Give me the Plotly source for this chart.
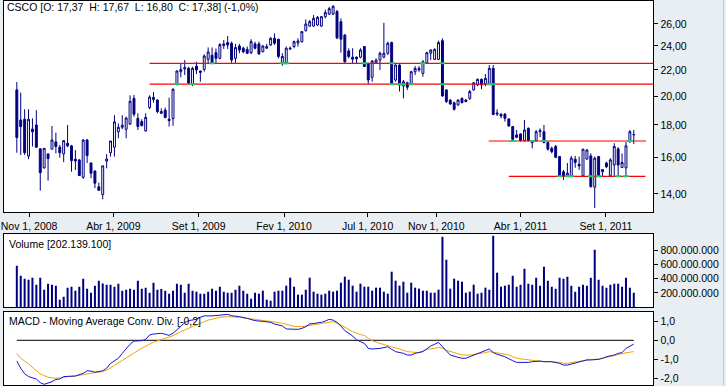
import math
import pandas as pd
import plotly.graph_objects as go

# ---------------- data ----------------
first_week = "2008-10-10"   # weekly candles (week ending Friday)

opens = [20.45,18.33,18.38,16.08,17.73,18.00,16.50,15.40,16.20,16.48,
         16.92,16.60,16.20,16.84,16.68,15.89,15.85,14.88,17.04,15.67,
         15.22,14.37,13.97,15.78,16.27,16.60,17.56,17.85,17.72,18.06,
         19.83,18.44,18.22,17.62,19.17,19.74,19.71,18.78,19.00,18.38,
         18.42,
         20.88,21.85,22.07,22.12,20.90,22.30,21.91,22.04,22.86,23.20,
         23.42,22.94,24.03,24.30,24.24,22.94,24.00,23.80,
         23.70,23.42,24.18,24.18,23.50,23.80,24.09,24.68,24.60,22.60,
         22.60,23.73,23.95,24.27,24.38,25.38,25.80,25.80,25.90,25.80,
         26.70,26.96,26.96,27.20,26.22,24.98,23.57,23.04,23.04,23.04,
         23.95,22.53,21.41,22.57,22.80,23.04,23.37,24.30,21.20,22.39,
         20.75,20.99,20.90,21.85,21.99,21.72,22.57,23.37,22.86,22.86,
         24.47,
         20.45,19.71,19.52,19.36,19.83,19.71,19.83,20.45,20.82,21.25,
         20.90,20.95,22.12,18.72,18.72,18.72,18.40,17.90,17.36,17.42,
         17.00,17.78,17.00,17.00,17.56,17.56,16.88,16.53,16.64,16.04,
         15.18,14.95,14.95,15.89,15.60,14.95,15.90,16.08,14.35,16.04,
         15.18,15.67,14.95,15.56,16.50,15.42,15.40,16.97,17.37]

highs = [21.05,20.25,19.06,19.06,18.44,19.00,16.53,16.55,16.20,17.93,
         17.50,16.74,17.04,18.00,16.74,16.43,15.89,17.10,17.10,15.70,
         15.25,14.59,15.51,16.18,16.98,18.65,18.10,18.65,18.55,20.05,
         20.08,18.78,18.38,18.78,20.05,20.30,19.75,19.12,19.17,19.88,
         20.57,
         21.95,22.53,22.80,22.25,22.25,22.66,21.93,23.28,23.87,23.87,
         23.78,24.24,24.53,24.89,24.38,24.18,24.18,23.95,
         23.95,24.60,24.38,24.38,24.05,24.18,24.77,25.13,24.60,23.37,
         23.95,23.95,24.47,24.68,25.32,26.44,26.38,26.86,26.77,26.77,
         27.40,27.67,27.83,27.37,26.54,25.05,23.80,23.80,23.10,23.80,
         23.95,22.57,22.80,22.94,23.50,26.12,24.38,24.38,22.45,22.45,
         21.20,21.07,21.93,22.30,22.30,22.80,23.50,23.71,23.78,24.47,
         24.68,
         20.50,19.76,19.60,19.76,19.90,19.78,20.45,21.05,21.33,21.33,
         21.67,22.39,22.39,19.06,18.78,18.80,18.44,17.93,17.67,17.46,
         18.33,17.84,17.02,17.67,17.78,18.00,16.95,16.64,16.74,16.08,
         15.28,15.67,16.08,16.08,16.04,16.50,16.48,16.23,16.04,16.08,
         15.33,15.75,15.95,16.84,16.60,16.23,16.92,17.67,17.67]

lows = [16.27,16.14,16.14,15.89,16.64,16.55,14.17,15.35,14.70,16.48,
        16.23,15.98,15.72,16.60,15.18,15.28,14.95,14.79,15.67,14.83,
        14.30,14.17,13.73,15.37,16.04,16.04,17.15,17.72,17.15,18.00,
        18.55,17.67,17.90,17.56,19.06,19.52,18.78,18.73,18.44,17.90,
        17.94,
        20.80,21.41,21.59,20.93,20.73,21.67,21.07,21.85,22.53,22.53,
        22.57,22.86,23.74,23.74,22.57,22.57,23.37,23.37,
        23.30,23.30,23.71,23.22,23.45,23.78,24.00,24.09,22.94,22.33,
        22.45,23.65,23.80,23.95,24.30,25.29,25.74,25.74,25.80,25.74,
        26.54,26.86,26.86,24.60,23.42,22.57,22.94,22.53,22.53,22.94,
        22.23,20.90,21.07,22.53,21.99,22.94,23.22,20.82,21.07,20.33,
        19.83,20.45,20.82,21.59,21.85,21.46,22.53,22.80,22.80,22.80,
        19.95,
        19.50,19.36,18.96,19.30,19.48,19.55,19.71,20.40,20.73,20.50,
        20.73,20.90,18.65,18.60,18.44,18.22,17.90,17.00,17.15,16.95,
        16.95,16.95,16.53,16.95,17.21,16.84,16.40,16.23,15.95,14.92,
        14.73,14.92,14.92,15.40,15.28,14.92,15.85,14.33,13.30,14.90,
        14.95,15.38,14.90,14.95,14.95,15.38,14.95,16.85,16.80]

closes = [17.20,17.90,16.27,18.38,17.56,16.60,15.13,16.53,15.92,17.04,
          16.64,16.27,17.00,16.68,15.81,15.79,14.97,17.04,16.10,15.10,
          14.56,14.19,15.51,15.90,16.98,18.20,17.85,17.98,18.46,19.62,
          18.72,17.90,17.96,18.50,19.93,19.90,18.90,18.90,18.50,18.29,
          20.50,
          21.91,22.04,22.18,20.97,22.12,21.99,21.80,23.14,23.48,22.57,
          22.94,24.12,24.18,24.09,22.80,23.87,23.65,23.50,
          23.37,24.38,23.80,23.32,24.00,23.95,24.68,24.24,23.10,23.10,
          23.80,23.80,24.38,24.44,25.29,26.00,26.22,26.54,26.64,26.70,
          27.10,27.50,27.73,24.72,24.60,22.66,23.10,22.87,22.90,23.65,
          22.27,21.20,22.72,22.80,23.37,23.37,24.24,20.95,22.39,20.82,
          21.07,20.65,21.85,22.12,22.12,22.66,23.42,23.65,23.71,24.30,
          20.00,
          19.60,19.43,19.06,19.71,19.52,19.60,20.33,20.99,21.25,20.82,
          21.33,22.12,18.70,18.80,18.60,18.44,17.93,17.08,17.21,17.00,
          17.67,17.00,16.88,17.56,17.64,16.88,16.48,16.33,16.00,14.95,
          14.95,15.10,15.95,15.70,15.51,16.48,16.43,14.38,15.95,14.95,
          15.30,15.46,15.85,16.64,15.56,15.70,16.68,17.56,17.38]

volume_millions = [583,442,400,385,414,315,414,244,329,315,
                   301,103,146,273,287,230,287,400,259,202,
                   301,371,330,315,315,287,329,230,244,259,
                   244,371,259,273,202,343,244,254,230,188,
                   230,329,315,202,329,230,216,188,188,216,
                   259,230,287,216,202,202,244,301,230,188,
                   118,202,188,230,103,89,216,230,230,301,
                   414,287,174,174,244,414,216,188,174,188,
                   230,216,230,343,428,385,301,216,329,
                   287,287,230,273,273,216,188,498,371,301,
                   357,202,343,273,259,230,230,202,202,244,
                   992,667,259,400,371,357,202,216,315,188,
                   202,273,244,1006,484,287,301,315,442,287,
                   315,540,329,315,414,301,569,371,287,259,
                   414,400,428,301,216,287,315,301,414,808,
                   385,301,273,315,329,329,287,414,273,202.139100]

# MACD line samples (week index, value)
macd_week = [0,1,2,3,5,6,7,9,10,11,12,14,15,17,18,19,20,22,23,24,26,27,28,29,30,
             32,33,34,35,37,38,39,40,41,42,43,44,46,47,48,50,51,52,54,55,56,57,59,
             60,61,63,64,65,66,68,69,70,72,73,74,75,77,78,79,80,81,82,83,84,86,87,88,
             89,90,91,93,94,95,96,97,99,100,101,102,104,105,106,107,108,109,110,111,
             113,114,115,116,118,119,120,121,122,123,125,126,127,128,130,131,132,134,
             135,136,137,139,140,141,142,144,145,146,147,149,150,151,153,154,155,156,158]
macd_val = [-1.10,-1.48,-1.77,-1.92,-2.05,-2.24,-2.33,-2.19,-2.07,-2.05,-1.92,-1.89,-1.89,
            -1.75,-1.61,-1.63,-1.69,-1.61,-1.48,-1.22,-0.95,-0.69,-0.46,-0.21,-0.04,
            -0.02,0.05,0.28,0.33,0.37,0.32,0.26,0.37,0.54,0.76,0.93,1.04,1.11,1.22,1.29,
            1.29,1.30,1.34,1.37,1.30,1.29,1.25,1.16,1.11,1.04,1.00,0.97,0.95,0.86,0.76,
            0.60,0.60,0.58,0.63,0.72,0.86,0.90,0.95,1.02,1.11,1.07,0.95,0.76,0.51,0.23,
            0.02,-0.07,
            -0.16,-0.43,-0.46,-0.43,-0.37,-0.34,-0.48,-0.60,-0.69,-0.78,-0.78,-0.69,
            -0.60,-0.43,-0.30,-0.21,-0.11,-0.34,-0.55,-0.78,-0.90,-0.95,-0.95,-0.87,
            -0.72,-0.65,-0.57,-0.46,-0.65,-0.74,-0.87,-0.99,-1.08,-1.17,-1.18,-1.17,
            -1.13,-1.10,-1.13,-1.13,-1.13,-1.22,-1.31,-1.31,-1.25,-1.17,-1.08,-1.04,
            -1.04,-1.01,-0.95,-0.87,-0.78,-0.69,-0.65,-0.43,-0.20]

signal_week = [0,1,3,5,6,8,10,12,13,15,17,18,20,22,23,25,27,29,30,32,34,35,37,39,40,
               42,44,46,47,49,51,52,54,56,57,59,61,63,64,66,68,69,71,73,74,76,78,80,81,
               83,85,86,88,
               89,90,91,93,94,95,96,98,99,100,102,103,104,105,107,108,109,110,112,113,
               114,116,117,118,120,121,122,123,125,126,127,128,130,131,132,134,135,136,
               137,139,140,141,142,144,145,146,147,149,150,151,153,154,155,156,158]
signal_val = [-0.69,-0.95,-1.25,-1.60,-1.78,-1.96,-2.01,-1.96,-1.92,-1.89,-1.84,-1.78,
              -1.71,-1.66,-1.58,-1.32,-1.08,-0.83,-0.66,-0.42,-0.21,-0.10,0.04,0.16,0.24,
              0.46,0.63,0.81,0.92,1.07,1.16,1.22,1.25,1.25,1.22,1.16,1.11,1.07,1.02,0.97,
              0.90,0.84,0.74,0.72,0.75,0.84,0.90,0.95,0.99,0.81,0.60,0.46,0.30,
              0.26,0.10,-0.02,-0.16,-0.21,-0.28,-0.35,-0.46,-0.53,-0.60,-0.64,-0.64,
              -0.57,-0.48,-0.43,-0.37,-0.42,-0.53,-0.65,-0.72,-0.78,-0.78,-0.77,-0.72,
              -0.65,-0.60,-0.63,-0.66,-0.72,-0.78,-0.87,-0.95,-1.01,-1.04,-1.08,-1.10,
              -1.13,-1.13,-1.13,-1.17,-1.22,-1.22,-1.18,-1.13,-1.08,-1.04,-1.03,-0.99,
              -0.95,-0.90,-0.83,-0.78,-0.72,-0.66,-0.60]

# horizontal support / resistance levels
level_price = [22.53, 20.88, 16.98, 14.93]
level_start = ["2009-06-05", "2009-06-05", "2011-02-03", "2011-03-11"]
level_end = ["2011-12-31", "2011-12-31", "2011-11-12", "2011-11-11"]

# weeks whose candles touch a level (small green marks)
touch_week = [41, 45, 50, 68, 69, 89, 96, 96, 98, 99, 101, 104, 109, 109,
              121, 122, 127, 132, 135, 157, 139, 141, 142, 147, 149, 154, 156]
touch_price = [20.88, 20.88, 22.53, 22.53, 22.53, 22.53, 22.53, 20.88, 20.88, 20.88,
               20.88, 22.53, 22.53, 20.88, 20.88, 20.88, 16.98, 16.98, 16.98, 16.98,
               14.93, 14.93, 14.93, 14.93, 14.93, 14.93, 14.93]

x_tick_dates = ["2008-11-01", "2009-04-01", "2009-09-01", "2010-02-01",
                "2010-07-01", "2010-11-01", "2011-04-01", "2011-09-01"]
x_tick_text = ["Nov 1, 2008", "Abr 1, 2009", "Set 1, 2009", "Fev 1, 2010",
               "Jul 1, 2010", "Nov 1, 2010", "Abr 1, 2011", "Set 1, 2011"]
price_ticks = [14, 16, 18, 20, 22, 24, 26]
price_tick_text = ["14,00", "16,00", "18,00", "20,00", "22,00", "24,00", "26,00"]
vol_ticks = [200e6, 400e6, 600e6, 800e6]
vol_tick_text = ["200.000.000", "400.000.000", "600.000.000", "800.000.000"]
macd_ticks = [1.0, 0.0, -1.0, -2.0]
macd_tick_text = ["1,0", "0,0", "-1,0", "-2,0"]

title_text = "CSCO [O: 17,37\u00a0 H: 17,67\u00a0 L: 16,80\u00a0 C: 17,38] (-1,0%)"
volume_text = "Volume [202.139.100]"
macd_text = "MACD - Moving Average Conv. Div. [-0,2]"

n = len(opens)
assert len(highs) == n and len(lows) == n and len(closes) == n and len(volume_millions) == n
assert len(macd_week) == len(macd_val) and len(signal_week) == len(signal_val)
assert len(touch_week) == len(touch_price)

dates = pd.date_range(first_week, periods=n, freq="7D")
volumes = [v * 1e6 for v in volume_millions]

# ---------------- layout helpers ----------------
W, H = 726, 386
NAVY = "#000080"
BG = "#e9eef2"
FONT = "Liberation Sans, Arial, sans-serif"
FS = 10.5

def fx(px):
    return px / W

def fy(px):
    return 1 - px / H

x_dom = [fx(1), fx(653)]
x_range = ["2008-09-17", "2011-11-25"]

fig = go.Figure()

fig.add_trace(go.Candlestick(
    x=dates, open=opens, high=highs, low=lows, close=closes,
    increasing=dict(line=dict(color=NAVY, width=1), fillcolor="white"),
    decreasing=dict(line=dict(color=NAVY, width=1), fillcolor=NAVY),
    whiskerwidth=0, xaxis="x", yaxis="y", showlegend=False, hoverinfo="skip"))

for p, s, e in zip(level_price, level_start, level_end):
    fig.add_trace(go.Scatter(x=[s, e], y=[p, p], mode="lines",
                             line=dict(color="#ff0000", width=1.2),
                             xaxis="x", yaxis="y", showlegend=False, hoverinfo="skip"))

fig.add_trace(go.Scatter(x=[dates[i] for i in touch_week], y=touch_price, mode="markers",
                         marker=dict(symbol="line-ew", size=4,
                                     line=dict(color="#22cc66", width=2)),
                         xaxis="x", yaxis="y", showlegend=False, hoverinfo="skip"))

fig.add_trace(go.Bar(x=dates, y=volumes, marker=dict(color=NAVY, line=dict(width=0)),
                     width=3.6 * 86400000, xaxis="x2", yaxis="y2",
                     showlegend=False, hoverinfo="skip"))

fig.add_trace(go.Scatter(x=[dates[0], dates[-1]], y=[0, 0], mode="lines",
                         line=dict(color="black", width=1),
                         xaxis="x3", yaxis="y3", showlegend=False, hoverinfo="skip"))
fig.add_trace(go.Scatter(x=[dates[i] for i in signal_week], y=signal_val, mode="lines",
                         line=dict(color="#f0a500", width=1),
                         xaxis="x3", yaxis="y3", showlegend=False, hoverinfo="skip"))
fig.add_trace(go.Scatter(x=[dates[i] for i in macd_week], y=macd_val, mode="lines",
                         line=dict(color="#1414d2", width=1),
                         xaxis="x3", yaxis="y3", showlegend=False, hoverinfo="skip"))

axis_common = dict(showline=True, mirror=True, linecolor="black", linewidth=1,
                   showgrid=False, zeroline=False)

fig.update_layout(
    width=W, height=H, margin=dict(l=0, r=0, t=0, b=0),
    paper_bgcolor=BG, plot_bgcolor="white",
    font=dict(family=FONT, size=FS, color="black"),
    showlegend=False, boxgap=0.3, boxgroupgap=0.3,
    xaxis=dict(domain=x_dom, range=x_range, type="date", anchor="y",
               tickvals=x_tick_dates, ticktext=x_tick_text, ticks="outside",
               ticklen=4, tickcolor="black", rangeslider=dict(visible=False),
               ticklabeloverflow="allow", **axis_common),
    xaxis2=dict(domain=x_dom, range=x_range, type="date", anchor="y2", matches="x",
                showticklabels=False, ticks="", **axis_common),
    xaxis3=dict(domain=x_dom, range=x_range, type="date", anchor="y3", matches="x",
                showticklabels=False, ticks="", **axis_common),
    yaxis=dict(domain=[fy(212), fy(1)], type="log",
               range=[math.log10(13.11), math.log10(28.27)], side="right", anchor="x",
               tickvals=price_ticks, ticktext=price_tick_text, ticks="outside",
               ticklen=4, tickcolor="black", **axis_common),
    yaxis2=dict(domain=[fy(307), fy(234)], range=[0, 1030e6], side="right", anchor="x2",
                tickvals=vol_ticks, ticktext=vol_tick_text, ticks="outside",
                ticklen=4, tickcolor="black", **axis_common),
    yaxis3=dict(domain=[fy(385), fy(312)], range=[-2.365, 1.497], side="right", anchor="x3",
                tickvals=macd_ticks, ticktext=macd_tick_text, ticks="outside",
                ticklen=4, tickcolor="black", **axis_common),
    shapes=[dict(type="line", xref="paper", yref="paper", x0=fx(723.5), x1=fx(723.5),
                 y0=0, y1=1, line=dict(color="#c3ccd5", width=1))],
    annotations=[
        dict(text=title_text, xref="paper", yref="paper", x=fx(2), y=fy(7),
             xanchor="left", yanchor="middle", showarrow=False,
             font=dict(family=FONT, size=FS, color="black")),
        dict(text=volume_text, xref="paper", yref="paper", x=fx(4), y=fy(243.5),
             xanchor="left", yanchor="middle", showarrow=False,
             font=dict(family=FONT, size=FS, color="black")),
        dict(text=macd_text, xref="paper", yref="paper", x=fx(4), y=fy(320.5),
             xanchor="left", yanchor="middle", showarrow=False,
             font=dict(family=FONT, size=FS, color="black")),
    ],
)

fig.write_html("out.html")
